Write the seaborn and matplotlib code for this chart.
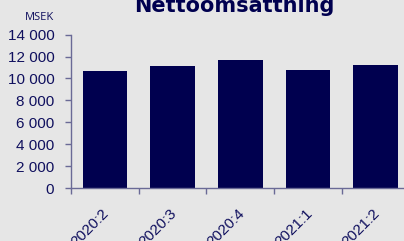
import matplotlib
matplotlib.use("Agg")
import matplotlib.pyplot as plt
import matplotlib.transforms as mtransforms
import seaborn as sns
import pandas as pd
import numpy as np
from matplotlib.ticker import FuncFormatter, FixedLocator

categories = ["2020:2", "2020:3", "2020:4", "2021:1", "2021:2"]
values = [10690, 11170, 11700, 10780, 11230]
title = "Nettoomsättning"
unit = "MSEK"

BG = "#e6e6e6"
BAR = "#00004f"
TXT = "#10105e"
AX = "#6a6a96"

sns.set_theme(style="white")
plt.rcParams["font.family"] = ["Liberation Sans", "DejaVu Sans"]

fig = plt.figure(figsize=(4.04, 2.41), dpi=100, facecolor=BG)
W, H = 404, 241
ax = fig.add_axes([71 / W, 53 / H, (409.5 - 71) / W, (188 - 34.7) / H])
ax.set_facecolor(BG)

df = pd.DataFrame({"cat": categories, "val": values})
sns.barplot(data=df, x="cat", y="val", color=BAR, saturation=1, width=0.66,
            linewidth=0, edgecolor=BAR, ax=ax)

ax.set_xlim(-0.5, 4.5)
ax.set_ylim(0, 14000)
ax.set_yticks(np.arange(0, 14001, 2000))
ax.yaxis.set_major_formatter(FuncFormatter(lambda v, p: f"{int(v):,}".replace(",", " ")))
ax.set_xlabel("")
ax.set_ylabel("")

for s in ["top", "right"]:
    ax.spines[s].set_visible(False)
for s in ["left", "bottom"]:
    ax.spines[s].set_color(AX)
    ax.spines[s].set_linewidth(1.0)

ax.tick_params(axis="y", which="major", direction="out", length=4, width=1, color=AX,
               labelcolor=TXT, labelsize=11, pad=8, left=True)
ax.tick_params(axis="x", which="major", length=0, labelcolor=TXT, labelsize=11, pad=17)
ax.xaxis.set_minor_locator(FixedLocator(np.arange(-0.5, 5, 1.0)))
ax.tick_params(axis="x", which="minor", direction="out", length=4, width=1, color=AX, bottom=True)
shift = mtransforms.ScaledTranslation(2 / 100, 0, fig.dpi_scale_trans)
for lab in ax.get_xticklabels():
    lab.set_rotation(45)
    lab.set_ha("right")
    lab.set_va("center")
    lab.set_rotation_mode("anchor")
    lab.set_transform(lab.get_transform() + shift)

fig.text(234 / W, 1 - 12 / H, title, ha="center", va="baseline", fontsize=15,
         fontweight="heavy", color=BAR, family=["DejaVu Sans"])
fig.text(40 / W, 1 - 20 / H, unit, ha="center", va="baseline", fontsize=8,
         color=TXT, family=["Open Sans", "DejaVu Sans"])

fig.savefig("out.png", dpi=100, facecolor=BG)
